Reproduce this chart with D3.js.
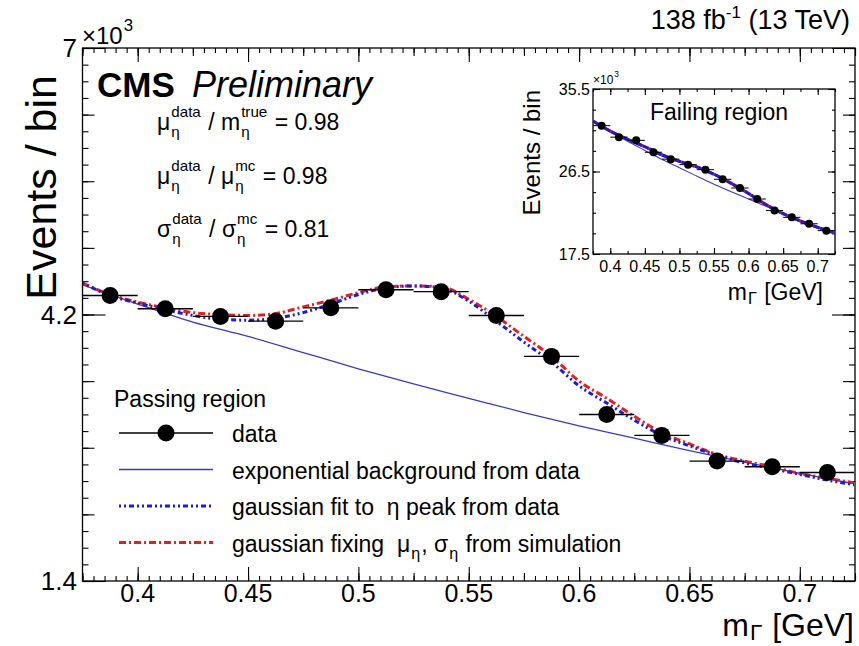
<!DOCTYPE html>
<html>
<head>
<meta charset="utf-8">
<script src="https://cdn.jsdelivr.net/npm/d3@7"></script>
<style>
  body { margin: 0; background: #fff; }
  text { font-family: "Liberation Sans", Arial, Helvetica, sans-serif; fill: #000; white-space: pre; }
</style>
</head>
<body>
<svg id="chart" width="859" height="646"></svg>
<script>
// ---- data (Events / bin in units of 10^3) ----
var binCenters = [0.3875, 0.4125, 0.4375, 0.4625, 0.4875, 0.5125, 0.5375,
                  0.5625, 0.5875, 0.6125, 0.6375, 0.6625, 0.6875, 0.7125];
var binWidth = 0.025;
var passData = [4.40, 4.26, 4.18, 4.13, 4.27, 4.46, 4.44, 4.19, 3.76, 3.15, 2.93, 2.66, 2.60, 2.54];

var bkgMass = [0.375, 0.4, 0.425, 0.45, 0.475, 0.5, 0.525, 0.55, 0.575, 0.6, 0.625, 0.65, 0.675, 0.7, 0.725];
var passBkg = [4.51, 4.31, 4.12, 3.97, 3.80, 3.63, 3.47, 3.32, 3.17, 3.03, 2.90, 2.77, 2.65, 2.53, 2.42];

var fitMass = [0.375, 0.3875, 0.4, 0.4125, 0.425, 0.4375, 0.45, 0.4625, 0.475, 0.4875,
               0.5, 0.5125, 0.525, 0.5375, 0.55, 0.5625, 0.575, 0.5875, 0.6, 0.6125,
               0.625, 0.6375, 0.65, 0.6625, 0.675, 0.6875, 0.7, 0.7125, 0.725];
var passFitData = [4.53, 4.40, 4.32, 4.25, 4.19, 4.15, 4.14, 4.16, 4.22, 4.31,
                   4.41, 4.48, 4.50, 4.48, 4.34, 4.13, 3.91, 3.70, 3.45, 3.27,
                   3.09, 2.93, 2.82, 2.72, 2.64, 2.58, 2.52, 2.46, 2.41];
var passFitSim = [4.53, 4.41, 4.33, 4.27, 4.22, 4.20, 4.19, 4.21, 4.28, 4.35,
                  4.43, 4.49, 4.50, 4.49, 4.36, 4.18, 3.97, 3.76, 3.50, 3.32,
                  3.13, 2.96, 2.84, 2.73, 2.66, 2.60, 2.53, 2.48, 2.43];

// failing region (inset)
var failData = [31.5, 30.25, 29.9, 28.6, 27.85, 27.25, 26.7, 25.65, 24.7, 23.5, 22.25, 21.5, 20.8, 20.05];
var failFit = [32.0, 30.9, 30.0, 29.2, 28.3, 27.6, 27.0, 26.2, 25.2, 24.1, 22.9, 21.9, 21.1, 20.4, 19.8];
var failBkg = [32.0, 30.85, 29.8, 28.8, 27.8, 26.9, 26.0, 25.1, 24.3, 23.5, 22.7, 21.85, 21.1, 20.4, 19.8];

var xLabels = [0.4, 0.45, 0.5, 0.55, 0.6, 0.65, 0.7];
var yLabels = [1.4, 4.2, 7];
var insetYLabels = [17.5, 26.5, 35.5];

var ratioLines = [
  [{t: "μ", sup: "data", sub: "η"}, {t: " / m"}, {t: "", sup: "true", sub: "η"}, {t: " = 0.98"}],
  [{t: "μ", sup: "data", sub: "η"}, {t: " / μ"}, {t: "", sup: "mc", sub: "η"}, {t: " = 0.98"}],
  [{t: "σ", sup: "data", sub: "η"}, {t: " / σ"}, {t: "", sup: "mc", sub: "η"}, {t: " = 0.81"}]
];

var svg = d3.select("#chart");
svg.append("rect").attr("width", 859).attr("height", 646).attr("fill", "#fff");

// writes text made of pieces with stacked super/subscripts
function richText(g, x, y, parts, size, anchor, subDrop, scriptScale) {
  var grp = g.append("g");
  var cx = 0;
  var drop = subDrop == null ? 0.32 : subDrop;
  var sc = scriptScale || 0.7;
  parts.forEach(function (p) {
    var t = grp.append("text").attr("x", cx).attr("y", 0).style("font-size", size + "px").text(p.t);
    cx += t.node().getComputedTextLength();
    var w = 0;
    if (p.sup) {
      var s = grp.append("text").attr("x", cx + 1).attr("y", -size * 0.55)
        .style("font-size", (size * sc) + "px").text(p.sup);
      w = Math.max(w, s.node().getComputedTextLength() + 2);
    }
    if (p.sub) {
      var b = grp.append("text").attr("x", cx + 1).attr("y", size * drop)
        .style("font-size", (size * sc) + "px").text(p.sub);
      w = Math.max(w, b.node().getComputedTextLength() + 2);
    }
    cx += w;
  });
  var dx = anchor === "end" ? -cx : 0;
  grp.attr("transform", "translate(" + (x + dx) + "," + y + ")");
  return grp;
}

function rng(a, b, s) {
  var out = [];
  var n = Math.round((b - a) / s);
  for (var i = 0; i <= n; i++) out.push(+(a + i * s).toFixed(6));
  return out;
}

// draws the four sides of a ROOT-style frame with inward ticks
function frame(g, x, y, levels) {
  var x0 = x.range()[0], x1 = x.range()[1], y0 = y.range()[0], y1 = y.range()[1];
  levels.x.forEach(function (lv) {
    g.append("g").attr("transform", "translate(0," + y0 + ")")
      .call(d3.axisBottom(x).tickValues(lv.v).tickSize(-lv.len).tickFormat("").tickSizeOuter(0));
    g.append("g").attr("transform", "translate(0," + y1 + ")")
      .call(d3.axisTop(x).tickValues(lv.v).tickSize(-lv.len).tickFormat("").tickSizeOuter(0));
  });
  levels.y.forEach(function (lv) {
    g.append("g").attr("transform", "translate(" + x0 + ",0)")
      .call(d3.axisLeft(y).tickValues(lv.v).tickSize(-lv.len).tickFormat("").tickSizeOuter(0));
    g.append("g").attr("transform", "translate(" + x1 + ",0)")
      .call(d3.axisRight(y).tickValues(lv.v).tickSize(-lv.len).tickFormat("").tickSizeOuter(0));
  });
  g.selectAll(".domain").remove();
  g.selectAll(".tick line").attr("stroke", "#000").attr("stroke-width", 1.1);
  g.append("rect").attr("x", x0).attr("y", y1).attr("width", x1 - x0).attr("height", y0 - y1)
    .attr("fill", "none").attr("stroke", "#000").attr("stroke-width", 1.3);
}

// ---------------- main plot ----------------
var xMain = d3.scaleLinear().domain([0.375, 0.725]).range([82.5, 855]);
var yMain = d3.scaleLinear().domain([1.4, 7]).range([581, 48]);
var main = svg.append("g");

frame(main, xMain, yMain, {
  x: [{v: rng(0.375, 0.725, 0.005), len: 5}, {v: rng(0.375, 0.725, 0.025), len: 8}, {v: xLabels, len: 14}],
  y: [{v: rng(1.4, 7, 0.175), len: 6}, {v: rng(1.4, 7, 0.7), len: 12}, {v: yLabels, len: 23}]
});

main.selectAll(".xl").data(xLabels).enter().append("text")
  .attr("x", function (d) { return xMain(d); }).attr("y", 602)
  .attr("text-anchor", "middle").style("font-size", "25px").text(function (d) { return d; });
main.selectAll(".yl").data(yLabels).enter().append("text")
  .attr("x", 77).attr("y", function (d) { return yMain(d); }).attr("dy", "0.36em")
  .attr("text-anchor", "end").style("font-size", "26px").text(function (d) { return d; });
richText(main, 82, 44, [{t: "×10", sup: "3"}], 24);

main.append("text").attr("transform", "translate(56,75) rotate(-90)")
  .attr("text-anchor", "end").style("font-size", "43px").text("Events / bin");
richText(main, 854, 636, [{t: "m", sub: "Γ"}, {t: " [GeV]"}], 32, "end", 0.14);

var lumi = svg.append("text").attr("x", 850).attr("y", 29).attr("text-anchor", "end").style("font-size", "27px");
lumi.append("tspan").text("138 fb");
lumi.append("tspan").attr("dy", -11).style("font-size", "17px").text("-1");
lumi.append("tspan").attr("dy", 11).text(" (13 TeV)");

svg.append("text").attr("x", 97).attr("y", 97).style("font-size", "35px")
  .style("font-weight", "bold").text("CMS");
svg.append("text").attr("x", 192).attr("y", 97).style("font-size", "36px")
  .style("font-style", "italic").text("Preliminary");

var ratioY = [130, 184, 237];
ratioLines.forEach(function (parts, i) { richText(main, 157, ratioY[i], parts, 23, null, 0.32, 0.66); });

main.append("clipPath").attr("id", "clipMain").append("rect")
  .attr("x", 83).attr("y", 48).attr("width", 771).attr("height", 533);
var plot = main.append("g").attr("clip-path", "url(#clipMain)");

var lineMain = d3.line().x(function (d) { return xMain(d[0]); }).y(function (d) { return yMain(d[1]); })
  .curve(d3.curveMonotoneX);

plot.append("path").attr("d", lineMain(d3.zip(bkgMass, passBkg)))
  .attr("fill", "none").attr("stroke", "#3a3acb").attr("stroke-width", 1.3);
plot.append("path").attr("d", lineMain(d3.zip(fitMass, passFitSim)))
  .attr("fill", "none").attr("stroke", "#e3201d").attr("stroke-width", 3).attr("stroke-dasharray", "7,3,2,3");
plot.append("path").attr("d", lineMain(d3.zip(fitMass, passFitData)))
  .attr("fill", "none").attr("stroke", "#1c1cd6").attr("stroke-width", 3).attr("stroke-dasharray", "2,3,2,3,5,3");

var pts = plot.selectAll(".pt").data(d3.zip(binCenters, passData)).enter().append("g");
pts.append("line")
  .attr("x1", function (d) { return xMain(d[0] - binWidth / 2); })
  .attr("x2", function (d) { return xMain(d[0] + binWidth / 2); })
  .attr("y1", function (d) { return yMain(d[1]); }).attr("y2", function (d) { return yMain(d[1]); })
  .attr("stroke", "#000").attr("stroke-width", 1.4);
pts.append("circle").attr("cx", function (d) { return xMain(d[0]); }).attr("cy", function (d) { return yMain(d[1]); })
  .attr("r", 8.5).attr("fill", "#000");

// legend
var leg = svg.append("g");
leg.append("text").attr("x", 114).attr("y", 407).style("font-size", "23px").text("Passing region");
var legY = [442, 478.5, 515, 551.5];
leg.append("line").attr("x1", 119).attr("x2", 213).attr("y1", legY[0] - 9).attr("y2", legY[0] - 9)
  .attr("stroke", "#000").attr("stroke-width", 1.4);
leg.append("circle").attr("cx", 166).attr("cy", legY[0] - 9).attr("r", 8.5).attr("fill", "#000");
leg.append("line").attr("x1", 119).attr("x2", 213).attr("y1", legY[1] - 9).attr("y2", legY[1] - 9)
  .attr("stroke", "#3a3acb").attr("stroke-width", 1.3);
leg.append("line").attr("x1", 119).attr("x2", 213).attr("y1", legY[2] - 9).attr("y2", legY[2] - 9)
  .attr("stroke", "#1c1cd6").attr("stroke-width", 3).attr("stroke-dasharray", "2,3,2,3,5,3");
leg.append("line").attr("x1", 119).attr("x2", 213).attr("y1", legY[3] - 9).attr("y2", legY[3] - 9)
  .attr("stroke", "#e3201d").attr("stroke-width", 3).attr("stroke-dasharray", "7,3,2,3");
leg.append("text").attr("x", 232).attr("y", legY[0]).style("font-size", "23px").text("data");
leg.append("text").attr("x", 232).attr("y", legY[1]).style("font-size", "23px").text("exponential background from data");
leg.append("text").attr("x", 232).attr("y", legY[2]).style("font-size", "23px").text("gaussian fit to  η peak from data");
richText(leg, 232, legY[3], [{t: "gaussian fixing  μ", sub: "η"}, {t: ", σ", sub: "η"}, {t: " from simulation"}], 23);

// ---------------- inset: failing region ----------------
var xIn = d3.scaleLinear().domain([0.375, 0.725]).range([593, 835]);
var yIn = d3.scaleLinear().domain([17.5, 35.5]).range([254, 89]);
var inset = svg.append("g");
inset.append("rect").attr("x", 593).attr("y", 89).attr("width", 242).attr("height", 165).attr("fill", "#fff");
frame(inset, xIn, yIn, {
  x: [{v: rng(0.375, 0.725, 0.025), len: 3}, {v: xLabels, len: 6}],
  y: [{v: rng(17.5, 35.5, 2.25), len: 3}, {v: insetYLabels, len: 7}]
});
inset.selectAll(".xil").data(xLabels).enter().append("text")
  .attr("x", function (d) { return xIn(d); }).attr("y", 272)
  .attr("text-anchor", "middle").style("font-size", "16px").text(function (d) { return d; });
inset.selectAll(".yil").data(insetYLabels).enter().append("text")
  .attr("x", 590).attr("y", function (d) { return yIn(d); }).attr("dy", "0.36em")
  .attr("text-anchor", "end").style("font-size", "16px").text(function (d) { return d; });
richText(inset, 593, 84, [{t: "×10", sup: "3"}], 12);
inset.append("text").attr("transform", "translate(540,90) rotate(-90)")
  .attr("text-anchor", "end").style("font-size", "24px").text("Events / bin");
richText(inset, 823, 300, [{t: "m", sub: "Γ"}, {t: " [GeV]"}], 23, "end", 0.18);
inset.append("text").attr("x", 650).attr("y", 120).style("font-size", "23px").text("Failing region");

inset.append("clipPath").attr("id", "clipIn").append("rect")
  .attr("x", 593).attr("y", 89).attr("width", 242).attr("height", 165);
var iplot = inset.append("g").attr("clip-path", "url(#clipIn)");
var lineIn = d3.line().x(function (d) { return xIn(d[0]); }).y(function (d) { return yIn(d[1]); })
  .curve(d3.curveMonotoneX);
iplot.append("path").attr("d", lineIn(d3.zip(bkgMass, failBkg)))
  .attr("fill", "none").attr("stroke", "#3a3acb").attr("stroke-width", 1.1);
iplot.append("path").attr("d", lineIn(d3.zip(bkgMass, failFit)))
  .attr("fill", "none").attr("stroke", "#e3201d").attr("stroke-width", 3);
iplot.append("path").attr("d", lineIn(d3.zip(bkgMass, failFit)))
  .attr("fill", "none").attr("stroke", "#1c1cd6").attr("stroke-width", 3).attr("stroke-dasharray", "6,1");
var ipts = iplot.selectAll(".ipt").data(d3.zip(binCenters, failData)).enter().append("g");
ipts.append("line")
  .attr("x1", function (d) { return xIn(d[0] - binWidth / 2); })
  .attr("x2", function (d) { return xIn(d[0] + binWidth / 2); })
  .attr("y1", function (d) { return yIn(d[1]); }).attr("y2", function (d) { return yIn(d[1]); })
  .attr("stroke", "#000").attr("stroke-width", 1);
ipts.append("circle").attr("cx", function (d) { return xIn(d[0]); }).attr("cy", function (d) { return yIn(d[1]); })
  .attr("r", 4).attr("fill", "#000");
</script>
</body>
</html>
